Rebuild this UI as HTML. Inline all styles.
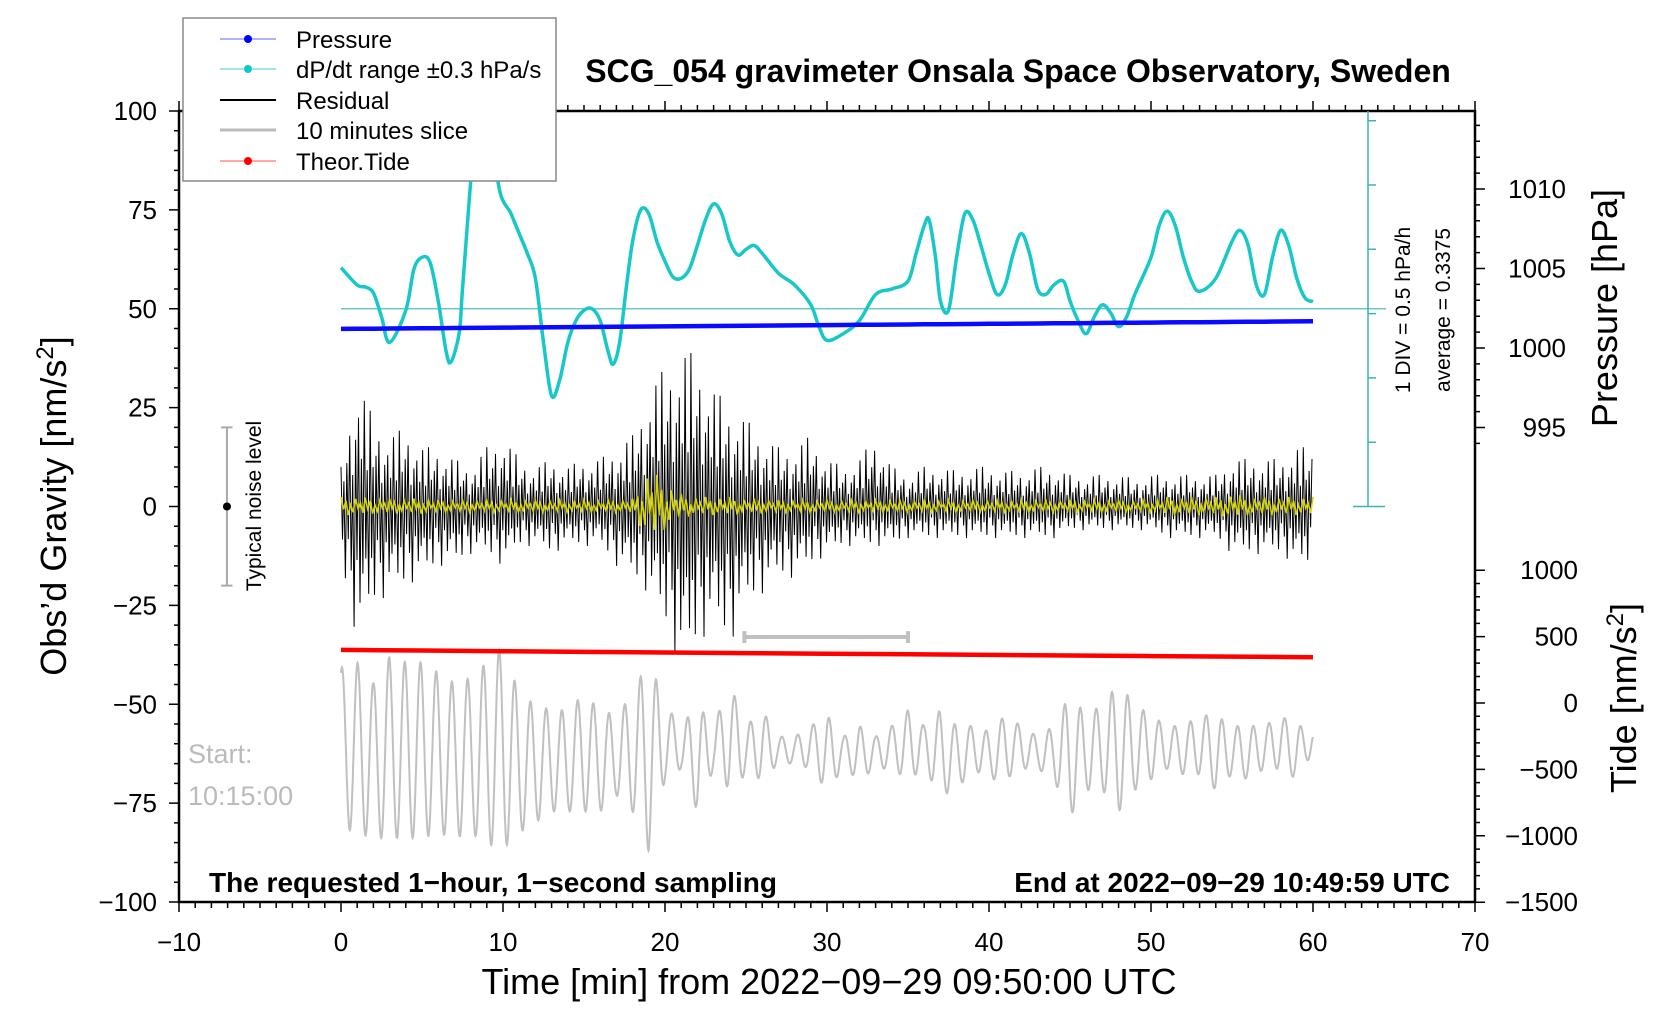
<!DOCTYPE html>
<html><head><meta charset="utf-8"><style>
body{margin:0;background:#fff}
svg{display:block;font-family:"Liberation Sans",sans-serif}
</style></head><body>
<svg id="c" width="1676" height="1020" xmlns="http://www.w3.org/2000/svg">
<defs><clipPath id="fr"><rect x="179" y="111" width="1296" height="791"/></clipPath></defs>
<g id="marks" clip-path="url(#fr)"></g>
<g id="axes"></g>
</svg>
<script>
// ---- data ----
const xTicks=[-10,0,10,20,30,40,50,60,70];
const gTicks=[100,75,50,25,0,-25,-50,-75,-100];
const pTicks=[1010,1005,1000,995];
const tideTicks=[1000,500,0,-500,-1000,-1500];
const cyanT=[0,1,1.5,2,2.5,3,4,4.5,5,5.5,6,6.5,6.8,7.3,7.5,8,8.3,8.7,9.2,9.7,10.5,11,11.5,12,12.5,13,13.5,14,14.5,15,15.5,16,16.5,16.8,17.2,17.6,18,18.5,19,19.5,20,20.5,21,21.5,22,22.5,23,23.5,24,24.5,25,25.5,26,27,28,29,29.5,30,31,32,33,34,35,35.5,36,36.3,36.7,37,37.5,38,38.5,39,39.5,40,40.5,41,41.5,42,42.5,43,43.5,44,44.6,45,45.5,46,46.5,47,47.5,48,48.5,49,50,50.5,51,51.5,52,52.5,53,54,55,55.5,56,56.5,57,57.5,58,58.5,59,59.5,60];
const cyanV=[60.4,56,55.5,54,48,41.5,49.6,60,63,61.7,52,39,36.6,44,55,82,98,108,110,82,74,69,64,57.7,41.5,28,32,41.5,47,49.6,50,47,39,36,41.5,55,67,75,74,67,62,58,57.7,60,66,72.5,76.5,74,67,63.6,65,66,64,59,56,51,45.5,42,43.7,47,53.6,55,57,64,71,72.5,63,52,49.6,63,74,72.5,66,59,53.6,56,64,69,64,55,53.6,56,57,52,47,43.7,48,51,49,45.5,48,53.6,63,71,74.7,71,63,57,54.4,57.7,67,69.8,66,56,53.6,63,69.8,66,57.7,52.8,51.8];
const pressT=[0,10,20,30,40,50,60];
const pressV=[1001.2,1001.28,1001.36,1001.44,1001.52,1001.6,1001.68];
const tideT=[0,20,40,60];
const tideV=[400,380,362,345];
const residMax=[10,33,22,18,20,15,15,12,10,15,18,12,10,12,10,12,12,15,18,30,35,40,38,30,25,22,18,15,15,18,12,10,12,18,10,8,10,10,9,10,10,9,9,10,10,8,8,8,8,7,8,8,8,8,8,12,12,12,12,15,15];
const residMin=[-15,-34,-25,-22,-20,-18,-15,-15,-12,-12,-15,-10,-10,-12,-10,-10,-10,-15,-18,-22,-30,-42,-35,-30,-35,-25,-22,-18,-18,-15,-12,-10,-10,-10,-10,-8,-8,-8,-8,-8,-8,-8,-8,-8,-8,-6,-6,-6,-6,-6,-6,-8,-8,-8,-8,-12,-12,-12,-12,-15,-15];
const yellowAmp=[3,3,2.5,2.5,2.5,2.5,2,2,2,2,2,2,2,2,2,2,2,2,2.5,12,8,4,3,3,3,2.5,2.5,2,2,2,2,2,2,2,2,2,2,2,2,2,2,2,2,2,2,2,2,2,2,2,2,3,3,3,3,4,3,3,3,3,3];
const grayUp=[-40.7,-39.4,-44.7,-38,-39.4,-39.4,-42,-44.7,-43.4,-39.4,-35.3,-47.4,-50.1,-51.5,-51.5,-47.4,-51.5,-52.8,-47.4,-38.5,-50.1,-55.5,-50.1,-55.5,-44.7,-55.5,-51.5,-58.2,-58.2,-55.5,-52.8,-58.2,-55.5,-58.2,-55.5,-51.5,-55.5,-51.5,-55.5,-55.5,-56.9,-52.8,-55.5,-58.2,-55.5,-47.4,-52.8,-50.1,-44.7,-50.1,-52.8,-55.5,-55.5,-52.8,-52.8,-55.5,-55.5,-55.5,-52.8,-55.5,-55.5];
const grayLo=[-81.1,-82.5,-83.8,-83.8,-83.8,-83.8,-82.5,-83.8,-82.5,-85.2,-86.5,-82.5,-79.8,-77.1,-77.1,-77.1,-77.1,-73,-77.1,-87.3,-69,-66.3,-77.1,-66.3,-71.7,-67.7,-69,-65,-65,-66.3,-71.7,-66.3,-69,-66.3,-66.3,-69,-66.3,-73,-71.7,-66.3,-69,-69,-66.3,-66.3,-69,-78.4,-71.7,-71.7,-77.1,-71.7,-69,-66.3,-67.7,-67.7,-71.7,-67.7,-69,-66.3,-66.3,-69,-62];

// ---- scales ----
const X=t=>341+t*16.2;
const Y=g=>506.5-g*3.955;
const P=h=>348-(h-1000)*15.9;
const TD=v=>703-v*0.1328;
const NS="http://www.w3.org/2000/svg";
const marks=document.getElementById('marks');
const axes=document.getElementById('axes');
function mk(tag,attrs,parent,text){const e=document.createElementNS(NS,tag);for(const k in attrs)e.setAttribute(k,attrs[k]);if(text!==undefined)e.textContent=text;(parent||marks).appendChild(e);return e;}
function interp(arr,t){const i=Math.floor(t);const f=t-i;const a=arr[Math.min(i,arr.length-1)],b=arr[Math.min(i+1,arr.length-1)];return a+(b-a)*f;}
function interpXY(ts,vs,t){for(let i=0;i<ts.length-1;i++){if(t<=ts[i+1]){const f=(t-ts[i])/(ts[i+1]-ts[i]);return vs[i]+(vs[i+1]-vs[i])*f;}}return vs[vs.length-1];}
function smoothPath(pts){let d='M'+pts[0][0].toFixed(1)+' '+pts[0][1].toFixed(1);for(let i=0;i<pts.length-1;i++){const p0=pts[Math.max(0,i-1)],p1=pts[i],p2=pts[i+1],p3=pts[Math.min(pts.length-1,i+2)];const c1=[p1[0]+(p2[0]-p0[0])/6,p1[1]+(p2[1]-p0[1])/6],c2=[p2[0]-(p3[0]-p1[0])/6,p2[1]-(p3[1]-p1[1])/6];d+=`C${c1[0].toFixed(1)} ${c1[1].toFixed(1)} ${c2[0].toFixed(1)} ${c2[1].toFixed(1)} ${p2[0].toFixed(1)} ${p2[1].toFixed(1)}`;}return d;}

// gray slice
let d='';
for(let t=0;t<=60;t+=0.02){const u=interp(grayUp,t),l=interp(grayLo,t);const v=(u+l)/2+(u-l)/2*Math.sin(2*Math.PI*t/0.97+1.2);d+=(d?'L':'M')+X(t).toFixed(1)+' '+Y(v).toFixed(1);}
let e=mk('path',{d:d,fill:'none',stroke:'#c0c0c0','stroke-width':2});



// residual
const pat=[1,-0.5,0.45,-0.9,0.6,-0.35,0.8,-0.6,0.3,-1,0.55,-0.4,0.7,-0.75,0.4,-0.55,0.95,-0.45,0.35,-0.8];
d='';let k=0;
for(let t=0;t<=60;t+=0.09){const p=pat[k%pat.length];k++;const v=p>0?p*interp(residMax,t):-p*interp(residMin,t);d+=(d?'L':'M')+X(t).toFixed(1)+' '+Y(v).toFixed(1);}
e=mk('path',{d:d,fill:'none',stroke:'#000','stroke-width':1});



// yellow
const ypat=[1,-0.3,0.6,-0.9,0.2,-0.6,0.8,-0.2,0.4,-0.7];
d='';k=0;
for(let t=0;t<=60;t+=0.15){const v=ypat[k%ypat.length]*interp(yellowAmp,t)*0.8;k++;d+=(d?'L':'M')+X(t).toFixed(1)+' '+Y(v).toFixed(1);}
e=mk('path',{d:d,fill:'none',stroke:'#d4d400','stroke-width':1.6});



// cyan reference line
e=mk('line',{x1:X(0),y1:Y(50),x2:1386,y2:Y(50),stroke:'#6cc8c8','stroke-width':1.5});


// cyan curve
const cpts=cyanT.map((t,i)=>[X(t),Y(cyanV[i])]);
e=mk('path',{d:smoothPath(cpts),fill:'none',stroke:'#18c8c8','stroke-width':3.5,'stroke-linejoin':'round'});



// pressure
d='';
for(let t=0;t<=60;t+=1){const v=interpXY(pressT,pressV,t);d+=(d?'L':'M')+X(t).toFixed(1)+' '+P(v).toFixed(1);}
e=mk('path',{d:d,fill:'none',stroke:'#0a0aff','stroke-width':4.5});



// tide
d='';
for(let t=0;t<=60;t+=5){const v=interpXY(tideT,tideV,t);d+=(d?'L':'M')+X(t).toFixed(1)+' '+TD(v).toFixed(1);}
e=mk('path',{d:d,fill:'none',stroke:'#ff0000','stroke-width':4.5});



// gray 10 min bar
e=mk('path',{d:`M${X(24.9)} ${Y(-31.5)}V${Y(-34.5)}M${X(24.9)} ${Y(-33)}H${X(35)}M${X(35)} ${Y(-31.5)}V${Y(-34.5)}`,stroke:'#c0c0c0','stroke-width':4,fill:'none'});



// noise level bar
e=mk('path',{d:`M${X(-7.4)} ${Y(20)}H${X(-6.7)}M${X(-7.04)} ${Y(20)}V${Y(-20)}M${X(-7.4)} ${Y(-20)}H${X(-6.7)}`,stroke:'#aaa','stroke-width':2,fill:'none'});


e=mk('circle',{cx:X(-7.04),cy:Y(0),r:4,fill:'#000'});



// ---- axes ----
e=mk('rect',{x:179,y:111,width:1296,height:791,fill:'none',stroke:'#000','stroke-width':2.5},axes);


let td='';
for(let t=-10;t<=70;t+=1){const x=X(t);const L=(t%10===0)?10:6;td+=`M${x} 902v${L}M${x} 111v-${L}`;}
for(let g=-100;g<=100;g+=5){const y=Y(g);const L=(g%25===0)?10:5;td+=`M179 ${y}h-${L}`;}
for(let h=994;h<=1014;h++){const y=P(h);if(y<111)continue;const L=(h%5===0)?10:5;td+=`M1475 ${y}h${L}`;}
for(let v=-1500;v<=1000;v+=100){const y=TD(v);const L=(v%500===0)?10:5;td+=`M1475 ${y}h${L}`;}
e=mk('path',{d:td,stroke:'#000','stroke-width':1.5,fill:'none'},axes);


xTicks.forEach(t=>{const el=mk('text',{x:X(t),y:951,'font-size':26,'text-anchor':'middle'},axes,String(t).replace('-','\u2212'));

});
gTicks.forEach(g=>{const el=mk('text',{x:157,y:Y(g)+9,'font-size':26,'text-anchor':'end'},axes,String(g).replace('-','\u2212'));

});
pTicks.forEach(h=>{const el=mk('text',{x:1566,y:P(h)+9,'font-size':26,'text-anchor':'end'},axes,String(h));

});
tideTicks.forEach(v=>{const el=mk('text',{x:1578,y:TD(v)+9,'font-size':26,'text-anchor':'end'},axes,String(v).replace('-','\u2212'));

});

// cyan scale bar
let cd=`M1368 111V${Y(0)}M1353 ${Y(0)}H1385`;
for(let i=1;i<=6;i++){cd+=`M1368 ${Y(0)-i*64.3}h8`;}
e=mk('path',{d:cd,stroke:'#3cb4b4','stroke-width':1.5,fill:'none'},axes);


</script>
<svg width="1676" height="1020" style="position:absolute;left:0;top:0" xmlns="http://www.w3.org/2000/svg">
<g font-family="Liberation Sans, sans-serif">
<text x="1018" y="82" font-size="32" font-weight="bold" text-anchor="middle">SCG_054 gravimeter Onsala Space Observatory, Sweden</text>
<text x="829" y="994" font-size="36" text-anchor="middle">Time [min] from 2022−09−29 09:50:00 UTC</text>
<text transform="translate(66,506) rotate(-90)" font-size="36" text-anchor="middle">Obs’d Gravity [nm/s<tspan baseline-shift="super" font-size="24">2</tspan>]</text>
<text transform="translate(1617,308) rotate(-90)" font-size="36" text-anchor="middle">Pressure [hPa]</text>
<text transform="translate(1636,698) rotate(-90)" font-size="36" text-anchor="middle">Tide [nm/s<tspan baseline-shift="super" font-size="24">2</tspan>]</text>
<text transform="translate(1410,310) rotate(-90)" font-size="21" text-anchor="middle">1 DIV = 0.5 hPa/h</text>
<text transform="translate(1450,310) rotate(-90)" font-size="21" text-anchor="middle">average = 0.3375</text>
<text transform="translate(261,506) rotate(-90)" font-size="21" text-anchor="middle">Typical noise level</text>
<text x="188" y="763" font-size="27" fill="#bbb">Start:</text>
<text x="188" y="805" font-size="27" fill="#bbb">10:15:00</text>
<text x="209" y="892" font-size="28" font-weight="bold">The requested 1−hour, 1−second sampling</text>
<text x="1450" y="892" font-size="28" font-weight="bold" text-anchor="end">End at 2022−09−29 10:49:59 UTC</text>
<g>
<rect x="183" y="18" width="373" height="163" fill="#fff" stroke="#888" stroke-width="1.5"/>
<line x1="220" y1="39" x2="276" y2="39" stroke="#6060ff"/><circle cx="248" cy="39" r="4" fill="#00f"/>
<text x="296" y="48" font-size="24">Pressure</text>
<line x1="220" y1="69" x2="276" y2="69" stroke="#40d0d0"/><circle cx="248" cy="69" r="4" fill="#10c8c8"/>
<text x="296" y="78" font-size="24">dP/dt range ±0.3 hPa/s</text>
<line x1="220" y1="100" x2="276" y2="100" stroke="#000" stroke-width="2"/>
<text x="296" y="109" font-size="24">Residual</text>
<line x1="220" y1="130" x2="276" y2="130" stroke="#bbb" stroke-width="3"/>
<text x="296" y="139" font-size="24">10 minutes slice</text>
<line x1="220" y1="161" x2="276" y2="161" stroke="#ff5050"/><circle cx="248" cy="161" r="4" fill="#f00"/>
<text x="296" y="170" font-size="24">Theor.Tide</text>
</g>
</g>
</svg>
</body></html>
